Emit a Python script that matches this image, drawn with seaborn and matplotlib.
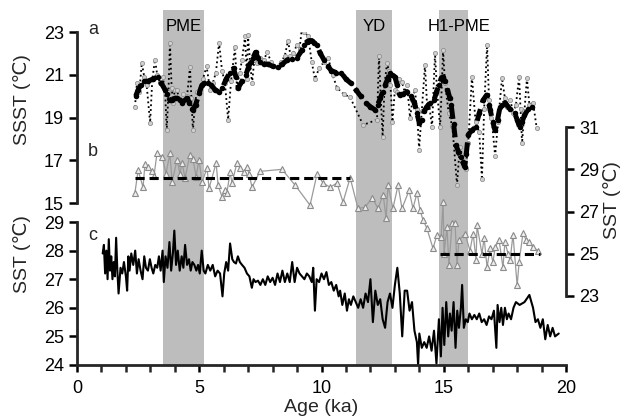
import matplotlib
matplotlib.use("Agg")
import matplotlib.pyplot as plt
from matplotlib.ticker import MultipleLocator
import seaborn as sns

# ---- interval bands (ka) ----
band_names = ["PME", "YD", "H1-PME"]
band_start = [3.5, 11.4, 14.8]
band_end = [5.2, 12.9, 16.0]
band_label_x = [4.38, 12.15, 15.62]

# ---- (a) SSST, raw record ----
a_raw_age = [2.37, 2.45, 2.55, 2.65, 2.75, 2.85, 2.99, 3.08, 3.19, 3.28, 3.4, 3.5, 3.6, 3.67,
             3.74, 3.8, 3.87, 3.93, 4.0, 4.08, 4.2, 4.35, 4.5, 4.62, 4.68, 4.74, 4.82, 4.9,
             5.03, 5.15, 5.3, 5.44, 5.55, 5.68, 5.81, 5.93, 6.05, 6.18, 6.3, 6.46, 6.54,
             6.65, 6.75, 6.87, 6.95, 6.99, 7.08, 7.16, 7.25, 7.36, 7.5, 7.65, 7.77, 7.95,
             8.18, 8.35, 8.5, 8.63, 8.73, 8.83, 9.0, 9.1, 9.2, 9.3, 9.45, 9.6, 9.73, 9.9,
             10.1, 10.27, 10.45, 10.63, 10.9, 11.17, 11.7, 12.27, 12.35, 12.42, 12.5, 12.58,
             12.68, 12.75, 12.82, 12.9, 13.0, 13.09, 13.18, 13.29, 13.4, 13.5, 13.62, 13.72,
             13.82, 13.9, 13.99, 14.1, 14.23, 14.32, 14.4, 14.52, 14.64, 14.72, 14.85, 14.93,
             14.97, 15.05, 15.2, 15.35, 15.54, 15.65, 15.79, 15.9, 16.0, 16.15, 16.3, 16.45,
             16.56, 16.65, 16.77, 16.85, 16.95, 17.1, 17.22, 17.38, 17.5, 17.6, 17.72, 17.85,
             17.95, 18.08, 18.14, 18.2, 18.3, 18.4, 18.5, 18.65, 18.8]
a_raw_val = [19.5, 20.6, 20.2, 21.55, 20.9, 20.5, 18.75, 20.8, 21.7, 21.0, 20.6, 20.9, 20.3, 18.4,
             20.2, 22.5, 20.4, 19.7, 20.3, 20.3, 19.8, 20.1, 20.0, 21.35, 19.9, 18.4, 19.6, 20.2,
             20.4, 20.8, 21.4, 20.3, 20.6, 21.1, 22.5, 21.2, 20.6, 18.9, 20.7, 22.3, 20.4,
             21.1, 21.7, 22.8, 20.8, 22.85, 21.6, 20.6, 21.7, 21.55, 21.8, 21.7, 22.05, 21.6,
             21.35, 21.6, 21.9, 22.6, 21.9, 22.0, 22.4, 22.2, 23.2, 23.0, 22.8, 21.6, 20.8, 21.3,
             21.6, 21.8, 21.0, 20.4, 20.1, 19.95, 18.65, 18.9, 21.9, 20.0, 18.1, 20.6,
             21.55, 21.2, 20.5, 18.8, 20.3, 20.2, 20.8, 20.65, 20.2, 20.5, 19.0, 19.8,
             20.3, 19.4, 17.5, 19.3, 21.45, 19.5, 19.6, 18.55, 22.0, 20.3, 18.55, 20.8,
             22.15, 20.6, 19.2, 18.6, 15.85, 17.6, 17.15, 16.6, 17.8, 20.9, 18.8, 18.3,
             16.1, 19.4, 22.4, 19.8, 19.0, 17.2, 18.8, 20.85, 19.9, 19.5, 19.8, 19.2,
             19.6, 20.9, 19.4, 17.8, 19.3, 20.85, 19.6, 19.7, 18.5]

# ---- (a) SSST, smoothed record ----
a_smooth_age = [2.4, 2.5, 2.6, 2.75, 2.9, 3.1, 3.3, 3.45, 3.6, 3.7, 3.8, 3.9, 4.0, 4.1, 4.2,
                4.3, 4.5, 4.6, 4.7, 4.75, 4.85, 5.0, 5.1, 5.2, 5.35, 5.5, 5.65, 5.8, 5.95,
                6.1, 6.25, 6.4, 6.5, 6.6, 6.75, 6.9, 7.0, 7.1, 7.2, 7.3, 7.4, 7.5, 7.65, 7.8,
                8.0, 8.2, 8.4, 8.6, 8.8, 9.0, 9.2, 9.3, 9.4, 9.5, 9.6, 9.7, 9.8, 9.95, 10.1,
                10.25, 10.4, 10.6, 10.8, 11.0, 11.2, 11.4, 11.6, 11.8, 12.0, 12.2, 12.3, 12.4,
                12.5, 12.6, 12.7, 12.8, 12.9, 13.0, 13.1, 13.2, 13.35, 13.5, 13.65, 13.8,
                13.9, 14.0, 14.1, 14.2, 14.3, 14.45, 14.6, 14.7, 14.8, 14.9, 14.95, 15.05,
                15.15, 15.25, 15.3, 15.4, 15.5, 15.6, 15.7, 15.78, 15.85, 15.92, 16.0, 16.15,
                16.3, 16.45, 16.6, 16.75, 16.85, 16.9, 17.0, 17.1, 17.2, 17.3, 17.4, 17.5,
                17.7, 17.9, 18.0, 18.1, 18.2, 18.3, 18.45, 18.6]
a_smooth_val = [20.0, 20.3, 20.5, 20.7, 20.7, 20.8, 20.9, 20.6, 20.3, 20.1, 19.8, 19.8, 19.9,
                19.9, 19.8, 19.7, 19.9, 19.7, 19.4, 19.35, 19.6, 20.15, 20.5, 20.6, 20.6, 20.5,
                20.3, 20.2, 20.4, 20.8, 21.1, 21.3, 20.9, 20.4, 20.7, 21.0, 21.3, 21.6, 21.8,
                22.05, 21.8, 21.6, 21.5, 21.5, 21.4, 21.35, 21.5, 21.7, 21.75, 21.8, 22.15,
                22.4, 22.55, 22.6, 22.6, 22.5, 22.4, 22.0, 21.7, 21.4, 21.2, 21.1, 21.1, 20.8,
                20.6, 20.3, 20.0, 19.7, 19.5, 19.35, 19.6, 19.9, 20.2, 20.5, 20.8, 21.1, 21.0,
                20.9, 20.5, 20.05, 20.1, 20.2, 20.0, 19.7, 19.2, 18.75, 18.9, 19.3, 19.5,
                19.7, 19.8, 20.2, 20.5, 20.85, 20.9, 20.7, 20.3, 19.9, 19.6, 18.7, 17.7, 17.4,
                17.15, 16.9, 16.7, 17.3, 18.2, 18.4, 18.55, 19.2, 19.8, 20.05, 19.6, 19.35,
                18.8, 18.4, 18.9, 19.5, 19.6, 19.7, 19.4, 19.2, 18.9, 18.55, 18.8, 19.1, 19.4,
                19.5]

# ---- (b) SST record (right axis) ----
b_age = [2.37, 2.5, 2.7, 2.78, 2.9, 3.07, 3.15, 3.27, 3.48, 3.64, 3.8, 3.89, 4.09, 4.21,
         4.29, 4.42, 4.62, 4.74, 4.87, 4.99, 5.11, 5.32, 5.4, 5.69, 5.77, 5.93, 6.05, 6.13,
         6.26, 6.34, 6.54, 6.67, 6.83, 6.95, 7.03, 7.16, 7.48, 8.38, 8.92, 9.53, 9.82,
         10.06, 10.35, 10.63, 10.88, 11.17, 11.49, 11.78, 12.07, 12.31, 12.52, 12.64,
         12.72, 12.92, 13.13, 13.29, 13.58, 13.74, 13.91, 14.03, 14.15, 14.31, 14.56,
         14.72, 14.89, 14.97, 15.01, 15.13, 15.21, 15.34, 15.46, 15.54, 15.62, 15.87,
         16.07, 16.2, 16.32, 16.36, 16.56, 16.65, 16.77, 16.89, 17.01, 17.1, 17.26, 17.42,
         17.5, 17.63, 17.71, 17.83, 18.0, 18.08, 18.24, 18.36, 18.49, 18.65, 18.85]
b_val = [27.9, 28.95, 28.15, 29.25, 29.1, 28.9, 28.7, 29.75, 29.6, 28.8, 29.75, 28.4, 29.45,
         28.8, 29.3, 28.6, 29.7, 29.5, 28.65, 29.45, 28.4, 29.05, 28.1, 29.3, 28.25, 27.7,
         28.0, 27.9, 28.85, 28.35, 29.3, 29.05, 28.85, 29.1, 28.8, 28.15, 28.9, 29.0, 28.25,
         27.3, 28.8, 28.35, 28.15, 28.35, 27.45, 28.6, 27.15, 27.2, 27.65, 27.15, 27.8,
         26.7, 28.25, 27.15, 28.25, 27.15, 28.0, 27.15, 27.9, 27.05, 26.6, 26.2, 25.25,
         25.9, 25.8, 27.45, 25.0, 26.25, 24.45, 26.45, 26.45, 24.45, 25.65, 25.95, 25.15,
         25.95, 24.7, 26.35, 25.0, 25.75, 24.35, 25.25, 24.6, 25.3, 25.65, 24.35, 25.55,
         25.0, 24.7, 25.9, 23.5, 24.6, 26.0, 25.65, 25.55, 25.3, 25.15]

# mean levels of (b) for the two periods
b_mean_level = [28.6, 25.0]
b_mean_start = [2.37, 14.85]
b_mean_end = [11.17, 18.94]

# ---- (c) SST record ----
c_age = [1.05, 1.1, 1.15, 1.2, 1.25, 1.3, 1.35, 1.4, 1.45, 1.5, 1.55, 1.6, 1.65, 1.7, 1.78,
         1.85, 1.92, 2.0, 2.05, 2.1, 2.15, 2.22, 2.3, 2.38, 2.45, 2.52, 2.6, 2.68, 2.75,
         2.82, 2.9, 2.98, 3.05, 3.12, 3.2, 3.28, 3.35, 3.42, 3.5, 3.55, 3.62, 3.7, 3.78,
         3.85, 3.92, 3.98, 4.05, 4.12, 4.2, 4.28, 4.35, 4.42, 4.5, 4.58, 4.65, 4.72, 4.8,
         4.88, 4.95, 5.02, 5.1, 5.18, 5.25, 5.35, 5.45, 5.55, 5.65, 5.75, 5.85, 5.95, 6.02,
         6.1, 6.18, 6.26, 6.35, 6.42, 6.5, 6.58, 6.66, 6.75, 6.85, 6.95, 7.05, 7.15, 7.22,
         7.3, 7.4, 7.5, 7.6, 7.7, 7.8, 7.9, 8.0, 8.1, 8.2, 8.3, 8.4, 8.5, 8.6, 8.7, 8.8,
         8.9, 9.0, 9.1, 9.2, 9.3, 9.4, 9.5, 9.6, 9.66, 9.73, 9.8, 9.9, 10.0, 10.1, 10.2,
         10.3, 10.4, 10.5, 10.6, 10.7, 10.76, 10.85, 10.95, 11.04, 11.12, 11.2, 11.3, 11.4,
         11.5, 11.6, 11.7, 11.8, 11.9, 12.0, 12.1, 12.2, 12.3, 12.4, 12.5, 12.6, 12.7,
         12.8, 12.9, 13.0, 13.1, 13.2, 13.3, 13.4, 13.5, 13.6, 13.7, 13.8, 13.9, 13.95,
         14.0, 14.1, 14.2, 14.3, 14.4, 14.5, 14.6, 14.7, 14.8, 14.88, 14.95, 15.02, 15.1,
         15.18, 15.25, 15.32, 15.4, 15.48, 15.55, 15.62, 15.7, 15.75, 15.82, 15.9, 15.98,
         16.05, 16.15, 16.25, 16.35, 16.45, 16.55, 16.65, 16.75, 16.85, 16.95, 17.05,
         17.15, 17.2, 17.28, 17.35, 17.42, 17.5, 17.58, 17.65, 17.75, 17.85, 17.95, 18.1,
         18.3, 18.5, 18.65, 18.75, 18.85, 18.95, 19.05, 19.15, 19.25, 19.35, 19.45, 19.55,
         19.7]
c_val = [27.9, 28.2, 27.2, 28.0, 27.0, 28.4, 27.3, 27.8, 27.0, 27.6, 27.1, 28.45, 27.3, 26.5,
         27.4, 27.2, 27.6, 27.1, 26.6, 27.8, 27.3, 27.9, 27.5, 28.0, 27.2, 27.7, 27.3, 27.0,
         27.8, 27.4, 27.3, 27.7, 27.4, 27.2, 27.5, 27.4, 27.8, 27.3, 28.0, 26.9, 27.8, 27.4,
         28.3, 27.3, 27.9, 28.7, 27.5, 28.0, 27.3, 27.8, 27.4, 28.2, 27.5, 27.7, 27.3, 27.6,
         27.5, 27.3, 27.5, 27.2, 28.0, 27.3, 27.2, 27.5, 27.3, 27.5, 27.1, 27.3, 27.2, 26.4,
         27.2, 27.6, 27.3, 28.25, 27.7, 27.6, 27.55, 27.8, 27.6, 27.5, 27.4, 27.2, 27.1,
         26.7, 27.0, 26.9, 26.95, 26.8, 27.0, 26.8, 27.1, 26.9, 27.05, 26.8, 27.2, 26.9,
         27.3, 26.9, 27.2, 26.9, 27.6, 26.9, 27.4, 27.2, 27.1, 27.0, 27.2, 27.1, 26.9, 27.4,
         25.9, 27.0, 26.9, 27.2, 27.0, 27.25, 26.8, 26.9, 26.6, 26.8, 26.4, 26.6, 26.1, 26.5,
         25.9, 26.3, 26.1, 26.4, 26.2, 26.0, 26.3, 26.0, 26.5, 26.2, 27.0, 25.5, 26.6, 26.1,
         26.3, 25.6, 25.3, 26.2, 26.5, 26.0, 26.8, 27.4, 26.5, 25.0, 26.6, 26.6, 25.9, 26.2,
         25.2, 24.8, 24.0, 25.1, 24.6, 24.8, 24.6, 25.0, 24.5, 25.2, 24.05, 25.6, 24.3, 26.0,
         24.7, 26.2, 25.0, 25.8, 25.2, 26.2, 24.6, 25.9, 25.3, 26.0, 26.8, 25.3, 25.6, 25.5,
         25.8, 25.6, 25.75, 25.6, 25.8, 25.5, 25.6, 25.4, 25.7, 25.6, 25.9, 24.6, 26.1, 25.5,
         26.0, 25.4, 26.0, 25.6, 25.8, 25.6, 26.0, 26.2, 26.1, 26.2, 26.45, 26.0, 25.5, 25.6,
         25.3, 25.6, 24.9, 25.4, 25.0, 25.3, 25.0, 25.1]

sns.set_style("ticks")
plt.rcParams["font.family"] = ["Liberation Sans", "DejaVu Sans"]
plt.rcParams["axes.linewidth"] = 2.0
plt.rcParams["xtick.major.width"] = 1.8
plt.rcParams["ytick.major.width"] = 1.8
plt.rcParams["xtick.minor.width"] = 1.8
plt.rcParams["xtick.major.size"] = 5
plt.rcParams["xtick.minor.size"] = 5
plt.rcParams["ytick.major.size"] = 6
plt.rcParams["xtick.direction"] = "out"
plt.rcParams["ytick.direction"] = "out"

TFS = 13   # tick labels
LFS = 14   # axis titles
fig = plt.figure(figsize=(6.23, 4.16), dpi=100)
L, W = 0.1236, 0.785

# shaded intervals spanning all panels
ax_bg = fig.add_axes([L, 0.1226, W, 0.853])
ax_bg.set_xlim(0, 20)
ax_bg.set_ylim(0, 1)
for s, e in zip(band_start, band_end):
    ax_bg.axvspan(s, e, color="#bdbdbd", lw=0, zorder=0)
ax_bg.axis("off")

# panel c
ax_c = fig.add_axes([L, 0.1226, W, 0.3437])
ax_c.patch.set_alpha(0)
sns.lineplot(x=c_age, y=c_val, ax=ax_c, color="black", lw=1.5,
             estimator=None, sort=False)
ax_c.set_xlim(0, 20)
ax_c.set_ylim(24, 29)
ax_c.set_yticks([24, 25, 26, 27, 28, 29])
ax_c.set_xticks([0, 5, 10, 15, 20])
ax_c.xaxis.set_minor_locator(MultipleLocator(1))
for sp in ["top", "right"]:
    ax_c.spines[sp].set_visible(False)
ax_c.tick_params(labelsize=TFS, colors="black")
ax_c.tick_params(axis="x", pad=6)
ax_c.set_xlabel("Age (ka)", fontsize=LFS, labelpad=1)
ax_c.set_ylabel("")

# panel b, right axis
ax_b = fig.add_axes([L, 0.2885, W, 0.406])
ax_b.patch.set_alpha(0)
sns.lineplot(x=b_age, y=b_val, ax=ax_b, color="#9a9a9a", lw=0.9, marker="^",
             markersize=4, markerfacecolor="#eeeeee", markeredgecolor="#8a8a8a",
             markeredgewidth=0.8, estimator=None, sort=False)
for lvl, s, e in zip(b_mean_level, b_mean_start, b_mean_end):
    sns.lineplot(x=[s, e], y=[lvl, lvl], ax=ax_b, color="black", lw=2.2,
                 dashes=(3, 1.6), estimator=None)
ax_b.set_xlim(0, 20)
ax_b.set_ylim(23, 31)
ax_b.set_yticks([23, 25, 27, 29, 31])
ax_b.yaxis.tick_right()
for sp in ["top", "left", "bottom"]:
    ax_b.spines[sp].set_visible(False)
ax_b.set_xticks([])
ax_b.tick_params(labelsize=TFS, colors="black")
ax_b.set_ylabel("")

# panel a, left axis
ax_a = fig.add_axes([L, 0.512, W, 0.411])
ax_a.patch.set_alpha(0)
sns.lineplot(x=a_raw_age, y=a_raw_val, ax=ax_a, color="black", lw=1.3,
             linestyle=":", marker="o", markersize=3, markerfacecolor="#d0d0d0",
             markeredgecolor="#909090", markeredgewidth=0.6, estimator=None, sort=False)
sns.lineplot(x=a_smooth_age, y=a_smooth_val, ax=ax_a, color="black", lw=3.6,
             dashes=(2.4, 1.3), marker="o", markersize=4, markeredgewidth=0,
             estimator=None, sort=False)
ax_a.set_xlim(0, 20)
ax_a.set_ylim(15, 23)
ax_a.set_yticks([15, 17, 19, 21, 23])
for sp in ["top", "right", "bottom"]:
    ax_a.spines[sp].set_visible(False)
ax_a.set_xticks([])
ax_a.tick_params(labelsize=TFS, colors="black")
ax_a.set_ylabel("")

# axis titles
fig.text(0.035, 0.76, "SSST (℃)", rotation=90, ha="center", va="center", fontsize=LFS)
fig.text(0.035, 0.39, "SST (℃)", rotation=90, ha="center", va="center", fontsize=LFS)
fig.text(0.982, 0.52, "SST (℃)", rotation=90, ha="center", va="center", fontsize=LFS)

# panel letters
for lab, yy in zip(["a", "b", "c"], [0.928, 0.635, 0.435]):
    fig.text(0.141, yy, lab, ha="left", va="center", fontsize=TFS)

# interval names
for name, cx in zip(band_names, band_label_x):
    ax_bg.text(cx, 0.955, name, ha="center", va="center", fontsize=12, color="black")

fig.savefig("out.png", dpi=100)
